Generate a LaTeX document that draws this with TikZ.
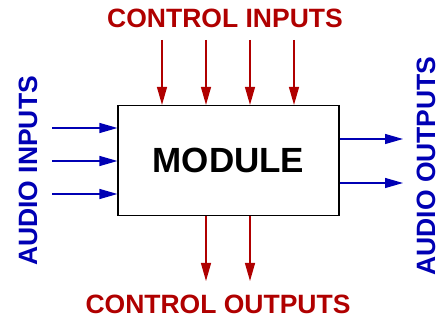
\documentclass[tikz,border=0pt]{standalone}
\usepackage{fontspec}
\setmainfont{Liberation Sans}
\usepackage{tikz}
\usetikzlibrary{positioning,arrows.meta,calc}
\definecolor{CtrlRed}{HTML}{B00000}
\definecolor{AudioBlue}{HTML}{0000B4}

\begin{document}
\begin{tikzpicture}[
  x=1pt, y=-1pt,
  module/.style   = {rectangle, draw=black, line width=1.2pt, fill=white, minimum width=221pt, minimum height=110pt, font=\fontsize{35}{40}\selectfont\bfseries},
  ctrl/.style     = {draw=CtrlRed, line width=1.3pt, -{Triangle[length=18pt,width=10pt]}},
  audio/.style    = {draw=AudioBlue, line width=1.3pt, -{Triangle[length=18pt,width=10pt]}},
  ctrllbl/.style  = {text=CtrlRed, font=\fontsize{26.5}{30}\selectfont\bfseries, inner sep=0pt},
  audiolbl/.style = {text=AudioBlue, font=\fontsize{26.5}{30}\selectfont\bfseries, inner sep=0pt, rotate=90}
]
\useasboundingbox (0,0) rectangle (440,320);

% Module box
\node[module] (mod) at (228.5,160.5) {MODULE};

% Labels
\node[ctrllbl] (cin)  at (225,18)  {CONTROL INPUTS};
\node[ctrllbl] (cout) at (218,304) {CONTROL OUTPUTS};
\node[audiolbl] (ain)  at (28,171)  {AUDIO INPUTS};
\node[audiolbl] (aout) at (426,166) {AUDIO OUTPUTS};

% Control inputs
\foreach \i/\x in {1/162, 2/206, 3/250, 4/294} {
  \coordinate (ci\i) at (\x,40);
  \draw[ctrl] (ci\i) -- (ci\i |- mod.north);
}

% Control outputs
\foreach \i/\x in {1/206, 2/250} {
  \coordinate (co\i) at (\x,281);
  \draw[ctrl] (co\i |- mod.south) -- (co\i);
}

% Audio inputs
\foreach \i/\y in {1/128, 2/161, 3/194} {
  \coordinate (ai\i) at (52,\y);
  \draw[audio] (ai\i) -- (ai\i -| mod.west);
}

% Audio outputs
\foreach \i/\y in {1/139, 2/183} {
  \coordinate (ao\i) at (403,\y);
  \draw[audio] (ao\i -| mod.east) -- (ao\i);
}
\end{tikzpicture}
\end{document}
